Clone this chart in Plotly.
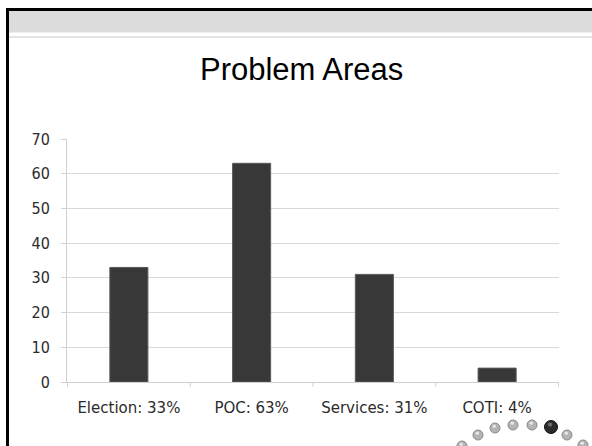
import plotly.graph_objects as go

categories = ["Election: 33%", "POC: 63%", "Services: 31%", "COTI: 4%"]
values = [33, 63, 31, 4]
y_ticks = [0, 10, 20, 30, 40, 50, 60, 70]
title_text = "Problem Areas"

W, H = 592, 446

def px(x):
    return x / W

def py(y):
    return 1 - y / H

fig = go.Figure()
fig.add_trace(go.Bar(
    x=categories, y=values,
    marker=dict(color="#383838", line=dict(color="#5a5a5a", width=1)),
    width=0.31,
))

shapes = []
# gray header band
shapes.append(dict(type="rect", xref="paper", yref="paper", x0=px(8), x1=px(W), y0=py(32.5), y1=py(10.5),
                   fillcolor="#dcdcdc", line=dict(width=0), layer="below"))
# thin line under band
shapes.append(dict(type="line", xref="paper", yref="paper", x0=px(8), x1=px(W), y0=py(37), y1=py(37),
                   line=dict(color="#c8c8c8", width=1)))
# black frame: top and left
shapes.append(dict(type="line", xref="paper", yref="paper", x0=px(6), x1=px(W), y0=py(9.5), y1=py(9.5),
                   line=dict(color="#000000", width=3)))
shapes.append(dict(type="line", xref="paper", yref="paper", x0=px(7.5), x1=px(7.5), y0=py(8), y1=py(H),
                   line=dict(color="#000000", width=3)))

# decorative dots (bottom right)
dots = [(462, 446, 5, "#b4b4b4"), (478, 435, 5, "#b4b4b4"), (495, 428, 5, "#b4b4b4"),
        (513, 425, 5, "#b4b4b4"), (532, 425, 5, "#b4b4b4"), (551, 427, 6.5, "#2a2a2a"),
        (567, 435, 5, "#b4b4b4"), (583, 445, 5, "#b4b4b4")]
for (cx, cy, r, c) in dots:
    shapes.append(dict(type="circle", xref="paper", yref="paper",
                       x0=px(cx - r), x1=px(cx + r), y0=py(cy + r), y1=py(cy - r),
                       fillcolor=c, line=dict(color="#8a8a8a" if c != "#2a2a2a" else "#111111", width=1)))
    shapes.append(dict(type="circle", xref="paper", yref="paper",
                       x0=px(cx - r * 0.5), x1=px(cx + r * 0.2), y0=py(cy - r * 0.05), y1=py(cy - r * 0.7),
                       fillcolor="#e8e8e8" if c != "#2a2a2a" else "#6a6a6a", line=dict(width=0)))

fig.update_layout(
    width=W, height=H, autosize=False,
    margin=dict(l=0, r=0, t=0, b=0, pad=0, autoexpand=False),
    paper_bgcolor="white", plot_bgcolor="white",
    showlegend=False,
    shapes=shapes,
    annotations=[dict(text=title_text, xref="paper", yref="paper", x=px(301), y=py(69),
                      xanchor="center", yanchor="middle", showarrow=False,
                      font=dict(family="Liberation Sans, Arial", size=31, color="#000000"))],
    xaxis=dict(domain=[px(67), px(559)], showgrid=False, showline=True, linecolor="#d0d0d0", linewidth=1,
               ticks="outside", ticklen=0, ticklabelstandoff=12, automargin=False,
               tickfont=dict(family="DejaVu Sans, Verdana", size=15, color="#2b2b2b"),
               fixedrange=True),
    yaxis=dict(domain=[py(382), py(139)], range=[0, 70], tickvals=y_ticks, showgrid=True,
               gridcolor="#d9d9d9", gridwidth=1, showline=True, linecolor="#d0d0d0", linewidth=1,
               ticks="outside", ticklen=5, tickcolor="#d0d0d0", zeroline=False,
               ticklabelstandoff=8, automargin=False,
               tickfont=dict(family="DejaVu Sans Condensed, DejaVu Sans", size=16, color="#2b2b2b"),
               fixedrange=True),
    bargap=0.69,
)

# category divider ticks on x axis (between categories)
for i in range(len(categories) + 1):
    fig.add_shape(type="line", xref="x", yref="paper", x0=i - 0.5, x1=i - 0.5,
                  y0=py(382), y1=py(387), line=dict(color="#d0d0d0", width=1))

fig.write_html("out.html")
